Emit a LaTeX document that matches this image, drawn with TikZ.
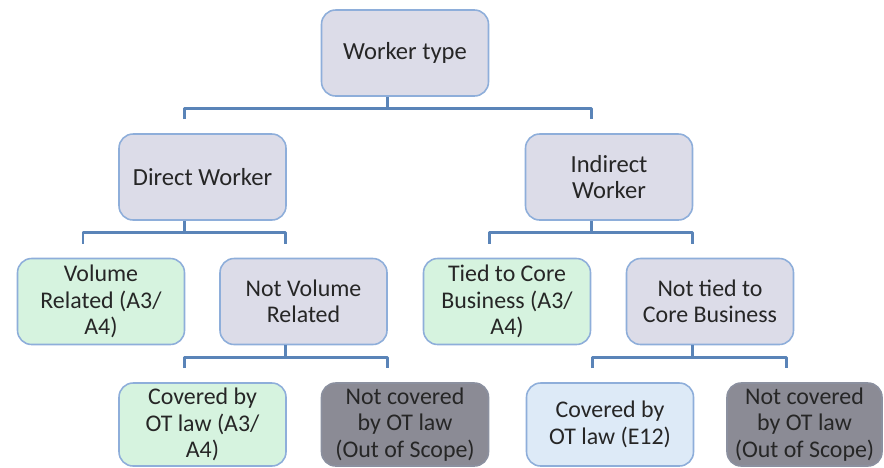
\documentclass[tikz,border=0pt]{standalone}
\usepackage{fontspec}
\setmainfont{Carlito}
\begin{document}
\begin{tikzpicture}[x=0.02cm, y=-0.02cm, line cap=round, line join=round]
  \definecolor{Ink}{HTML}{262626}
  \definecolor{Lav}{HTML}{DCDCE8}
  \definecolor{Mint}{HTML}{D6F3DF}
  \definecolor{Sky}{HTML}{DDEAF7}
  \definecolor{Slate}{HTML}{8B8B95}
  \definecolor{Rim}{HTML}{8EAEDA}
  \definecolor{Bar}{HTML}{5A84B8}

  \tikzset{
    box/.style={rounded corners=8pt, draw=Rim, line width=0.9pt, fill=Lav,
      text=Ink, align=center, minimum width=3.34cm, minimum height=1.72cm,
      inner sep=1pt, font=\fontsize{13.6}{15}\selectfont},
    headbox/.style={box, font=\fontsize{14}{15}\selectfont},
    okbox/.style={box, fill=Mint},
    e12box/.style={box, fill=Sky},
    outbox/.style={box, fill=Slate, draw=Slate!85!Rim},
    link/.style={draw=Bar, line width=1.7pt, line cap=butt}
  }

  \def\sh{-0.36cm}
  \def\gap{0.28cm}
  \def\drop{-0.24cm}

  \useasboundingbox (0,0) rectangle (884,467);

  % Levels
  \node[headbox] (wt) at (405,53) {Worker type};
  \node[headbox] (dw) at (202.5,177) {Direct Worker};
  \node[headbox] (iw) at (609,177) {Indirect\\Worker};

  \node[okbox] (vr) at (101,301.5) {Volume\\Related (A3/\\A4)};
  \node[box] (nv) at (303.5,301.5) {Not Volume\\Related};
  \node[okbox] (tc) at (507,301.5) {Tied to Core\\Business (A3/\\A4)};
  \node[box] (nt) at (710,301.5) {Not tied to\\Core Business};

  \node[okbox, minimum height=1.66cm] (c1) at (202.5,424.5) {Covered by\\OT law (A3/\\A4)};
  \node[outbox, minimum height=1.66cm] (o1) at (405,424.5) {Not covered\\by OT law\\(Out of Scope)};
  \node[e12box, minimum height=1.66cm] (c2) at (610,424.5) {Covered by\\OT law (E12)};
  \node[outbox, minimum height=1.66cm, minimum width=3.1cm] (o2) at (804.5,424.5) {Not covered\\by OT law\\(Out of Scope)};

  % Brackets
  \foreach \p/\a/\b in {wt/dw/iw, dw/vr/nv, iw/tc/nt, nv/c1/o1, nt/c2/o2} {
    \draw[link] ([xshift=\sh]\p.south) -- ([xshift=\sh,yshift=\drop]\p.south);
    \draw[link] ([xshift=\sh,yshift=\gap]\a.north) |- ([xshift=\sh,yshift=\drop]\p.south)
      -| ([xshift=\sh,yshift=\gap]\b.north);
  }
\end{tikzpicture}
\end{document}
